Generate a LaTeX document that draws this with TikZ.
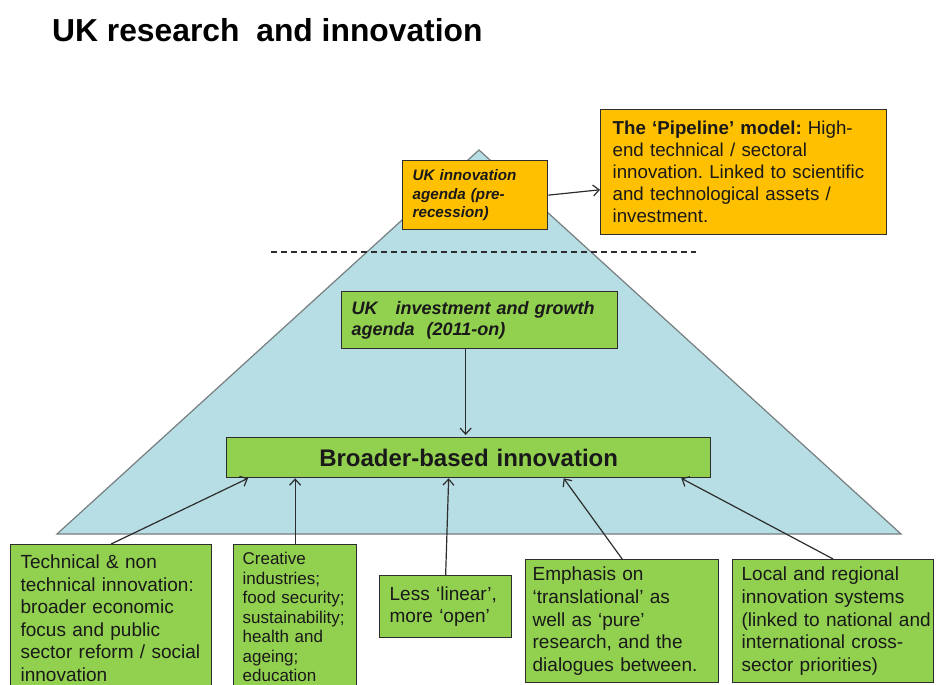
\documentclass[tikz,border=0pt]{standalone}
\usepackage{fontspec}
\setmainfont{Liberation Sans}
\usetikzlibrary{arrows.meta}
\frenchspacing

\definecolor{leafgreen}{RGB}{146,208,80}
\definecolor{amber}{RGB}{255,192,0}
\definecolor{skyfill}{RGB}{183,222,228}
\definecolor{skyedge}{RGB}{118,126,128}
\definecolor{inkline}{RGB}{45,45,45}

\tikzset{
  panel/.style={draw=inkline, line width=1.3pt, anchor=north west, align=left,
    text=black!90, inner xsep=10pt, inner ysep=0pt},
  greenpanel/.style={panel, fill=leafgreen},
  amberpanel/.style={panel, fill=amber},
  feed/.style={->, >={Straight Barb[length=6pt, width=11pt]}, draw=inkline, line width=1.2pt},
}

\newcommand{\boxtext}{\fontsize{19}{22.6}\selectfont}

\begin{document}
\begin{tikzpicture}[x=1pt, y=-1pt]
  \useasboundingbox (0,0) rectangle (937,685);

  % Heading
  \node[anchor=base west, inner sep=0pt, font={\fontsize{31.8}{36}\selectfont\bfseries}] (title) at (52,42)
    {UK research\hspace{8pt} and innovation};

  % Pyramid behind the agenda boxes
  \filldraw[fill=skyfill, draw=skyedge, line width=1.2pt] (479,150) -- (57,534) -- (901,534) -- cycle;

  % Cut between the two agendas
  \draw[inkline, line width=1.2pt, dash pattern=on 6pt off 4pt] (271,252) -- (696,252);

  % Top of the pyramid (pre-recession)
  \node[amberpanel, minimum width=145pt, minimum height=69pt, text width=125pt,
    font={\fontsize{15.2}{18.5}\selectfont\bfseries\itshape}] (preagenda) at (402,160)
    {UK innovation\\agenda (pre-\\recession)};
  \node[amberpanel, minimum width=286pt, minimum height=125pt, text width=262pt, inner xsep=12pt,
    font={\fontsize{18.7}{22}\selectfont}] (pipeline) at (600,109)
    {\textbf{The ‘Pipeline’ model:} High-\\end technical / sectoral\\innovation. Linked to scientific\\and technological assets /\\investment.};

  % Middle: 2011 agenda and its outcome
  \node[greenpanel, minimum width=276pt, minimum height=57pt, text width=256pt,
    font={\fontsize{18}{21}\selectfont\bfseries\itshape}] (growth) at (341,291)
    {UK\ \ \ investment and growth\\agenda\ \ (2011-on)};
  \node[greenpanel, align=center, minimum width=484pt, minimum height=40pt, text width=464pt,
    font={\fontsize{24}{28}\selectfont\bfseries}] (broad) at (226,437)
    {Broader-based innovation};

  % Strands feeding into it
  \node[greenpanel, minimum width=201pt, minimum height=147pt, text width=181pt, font=\boxtext] (tech) at (10,544)
    {Technical \& non\\technical innovation:\\broader economic\\focus and public\\sector reform / social\\innovation};
  \node[greenpanel, minimum width=123pt, minimum height=145pt, text width=105pt, inner xsep=9pt,
    font={\fontsize{17}{19.5}\selectfont}] (sectors) at (233,544)
    {Creative\\industries;\\food security;\\sustainability;\\health and\\ageing;\\education};
  \node[greenpanel, minimum width=132pt, minimum height=62pt, text width=112pt, font=\boxtext] (open) at (379,575)
    {Less ‘linear’,\\more ‘open’};
  \node[greenpanel, minimum width=193pt, minimum height=123pt, text width=179pt, inner xsep=7pt, font=\boxtext] (research) at (525,559)
    {Emphasis on\\‘translational’ as\\well as ‘pure’\\research, and the\\dialogues between.};
  \node[greenpanel, minimum width=201pt, minimum height=123pt, text width=183pt, inner xsep=9pt, font=\boxtext] (local) at (732,559)
    {Local and regional\\innovation systems\\\mbox{(linked to national and}\\international cross-\\sector priorities)};

  % Arrows
  \draw[feed] (preagenda.east) -- (pipeline.187);
  \draw[feed, shorten >=2pt] ([xshift=-14pt]growth.south) -- ([xshift=-14pt]growth.south |- broad.north);
  \draw[feed] (tech.north) -- ([xshift=22pt]broad.south west);
  \draw[feed] (sectors.north) -- (sectors.north |- broad.south);
  \draw[feed] (open.north) -- ([xshift=-20pt]broad.south);
  \draw[feed] (research.north) -- ([xshift=95pt]broad.south);
  \draw[feed] (local.north) -- ([xshift=-30pt]broad.south east);
\end{tikzpicture}
\end{document}
